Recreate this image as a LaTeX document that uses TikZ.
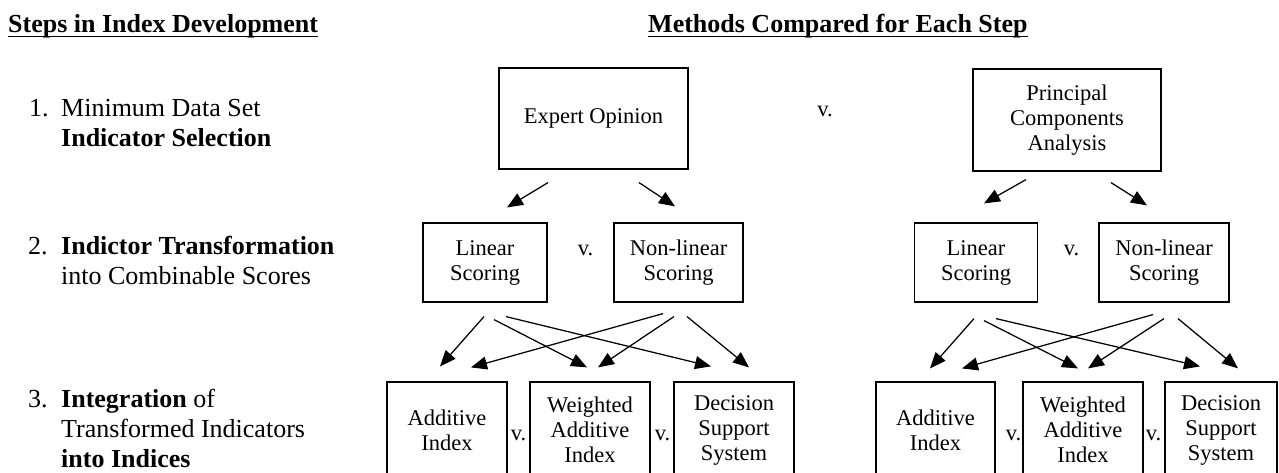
\documentclass[tikz,border=0pt]{standalone}
\usepackage{fontspec}
\setmainfont{Liberation Serif}
\usetikzlibrary{arrows.meta}
\newcommand\bxfont{\fontsize{22.5}{25}\selectfont}
\newcommand\stfont{\fontsize{26}{30}\selectfont}
\begin{document}
\begin{tikzpicture}[x=1pt,y=-1pt,
  box/.style={draw,line width=1.2pt,inner sep=0pt,align=center,font=\bxfont},
  arr/.style={-{Triangle[length=16pt,width=13pt]},line width=1.25pt},
  lbl/.style={anchor=base west,inner sep=0pt,font=\stfont},
  vs/.style={anchor=base,inner sep=0pt,font=\bxfont},
  head/.style={anchor=base west,inner sep=0pt,font=\stfont\bfseries}]
\path[fill=white,use as bounding box] (0,0) rectangle (1279,473);

% column headings
\node[head] (h1) at (8,33) {Steps in Index Development};
\draw[line width=1.3pt] ([yshift=-3.5pt]h1.base west) -- ([yshift=-3.5pt]h1.base east);
\node[head] (h2) at (648,33) {Methods Compared for Each Step};
\draw[line width=1.3pt] ([yshift=-3.5pt]h2.base west) -- ([yshift=-3.5pt]h2.base east);

% steps
\node[lbl] (n1) at (29,117) {1.};
\node[lbl] (s1a) at (61,117) {Minimum Data Set};
\node[lbl,font=\stfont\bfseries] (s1b) at (61,147) {Indicator Selection};
\node[lbl] (n2) at (28,254) {2.};
\node[lbl] (s2a) at (61,254) {\textbf{Indictor Transformation}};
\node[lbl] (s2b) at (61,284) {into Combinable Scores};
\node[lbl] (n3) at (28,407) {3.};
\node[lbl] (s3a) at (61,407) {\textbf{Integration} of};
\node[lbl] (s3b) at (61,437) {Transformed Indicators};
\node[lbl] (s3c) at (61,467) {\textbf{into Indices}};

% step 1: selection methods
\node[box,minimum width=189pt,minimum height=101pt] (eo) at (593.5,118.5) {Expert Opinion};
\node[vs] (v1) at (825,117) {v.};
\node[box,minimum width=188pt,minimum height=102pt] (pca) at (1067,120) {Principal\\Components\\Analysis};

% step 2: scoring methods
\node[box,minimum width=124pt,minimum height=79pt] (linL) at (485,262.5) {Linear\\Scoring};
\node[vs] (v2L) at (585.5,255) {v.};
\node[box,minimum width=129pt,minimum height=79pt] (nlL) at (678.5,262.5) {Non-linear\\Scoring};
\node[box,minimum width=123pt,minimum height=79pt] (linR) at (976,262.5) {Linear\\Scoring};
\node[vs] (v2R) at (1071.5,255) {v.};
\node[box,minimum width=130pt,minimum height=79pt] (nlR) at (1164,262.5) {Non-linear\\Scoring};

% step 3: integration methods
\node[box,minimum width=120pt,minimum height=96pt] (addL) at (447,430) {Additive\\Index};
\node[vs] (v3La) at (518.5,440) {v.};
\node[box,minimum width=120pt,minimum height=96pt] (wtL) at (590,430) {Weighted\\Additive\\Index};
\node[vs] (v3Lb) at (662.5,440) {v.};
\node[box,minimum width=120pt,minimum height=96pt] (dssL) at (734,430) {Decision\\Support\\System};
\node[box,minimum width=119pt,minimum height=96pt] (addR) at (935.5,430) {Additive\\Index};
\node[vs] (v3Ra) at (1013.5,440) {v.};
\node[box,minimum width=120pt,minimum height=96pt] (wtR) at (1083,430) {Weighted\\Additive\\Index};
\node[vs] (v3Rb) at (1153.5,440) {v.};
\node[box,minimum width=112pt,minimum height=96pt] (dssR) at (1221,430) {Decision\\Support\\System};

% selection -> scoring
\draw[arr] ([shift={(-45.5,13)}]eo.south) -- ([shift={(22,-15)}]linL.north);
\draw[arr] ([shift={(45.5,13)}]eo.south) -- ([shift={(-3.5,-16)}]nlL.north);
\draw[arr] ([shift={(-41,8)}]pca.south) -- ([shift={(8,-19)}]linR.north);
\draw[arr] ([shift={(44,11)}]pca.south) -- ([shift={(-17,-17)}]nlR.north);

% scoring -> integration (left)
\draw[arr] ([shift={(-1,14)}]linL.south) -- ([shift={(-7,-15)}]addL.north);
\draw[arr] ([shift={(9,17)}]linL.south) -- ([shift={(-3,-14)}]wtL.north);
\draw[arr] ([shift={(21,14)}]linL.south) -- ([shift={(-23,-15)}]dssL.north);
\draw[arr] ([shift={(-15.5,11)}]nlL.south) -- ([shift={(24,-14)}]addL.north);
\draw[arr] ([shift={(-4.5,14)}]nlL.south) -- ([shift={(8,-14)}]wtL.north);
\draw[arr] ([shift={(8.5,14)}]nlL.south) -- ([shift={(15,-14)}]dssL.north);

% scoring -> integration (right)
\draw[arr] ([shift={(-2,16)}]linR.south) -- ([shift={(-5.5,-13)}]addR.north);
\draw[arr] ([shift={(8,18)}]linR.south) -- ([shift={(-5,-13)}]wtR.north);
\draw[arr] ([shift={(20,16)}]linR.south) -- ([shift={(-21,-15)}]dssR.north);
\draw[arr] ([shift={(-11,12)}]nlR.south) -- ([shift={(26.5,-13)}]addR.north);
\draw[arr] ([shift={(0,16)}]nlR.south) -- ([shift={(5,-13)}]wtR.north);
\draw[arr] ([shift={(14,16)}]nlR.south) -- ([shift={(17,-13)}]dssR.north);
\end{tikzpicture}
\end{document}
